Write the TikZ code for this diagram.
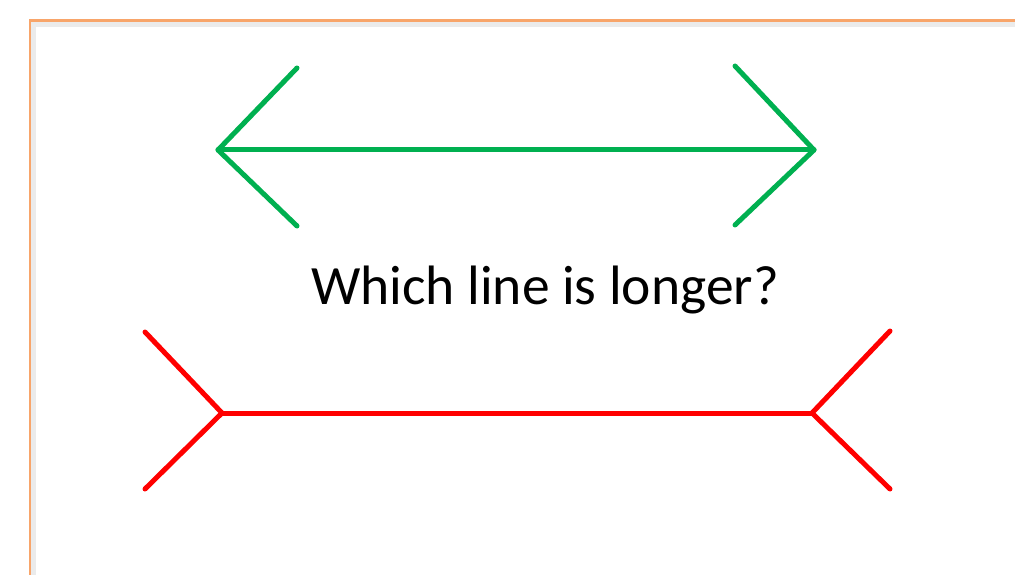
\documentclass[tikz,border=0pt]{standalone}
\usepackage{fontspec}
\setmainfont{Carlito}
\usetikzlibrary{positioning}
\definecolor{fingreen}{HTML}{00B050}
\definecolor{finred}{HTML}{FF0000}
\definecolor{frameorange}{HTML}{F8A56A}
\tikzset{
  frame/.style={draw=frameorange,line width=2.2pt},
  shade line/.style={draw=black!8,line width=5pt},
  greenline/.style={draw=fingreen,line width=5pt,line cap=round,line join=round},
  redline/.style={draw=finred,line width=5pt,line cap=round,line join=round},
  question/.style={font=\fontsize{55.5}{64}\selectfont,inner sep=0pt}
}
\begin{document}
\begin{tikzpicture}[x=1pt,y=-1pt]
\useasboundingbox (0,0) rectangle (1015,575);
% page frame
\draw[shade line] (33,580) -- (33,25) -- (1020,25);
\draw[frame] (30,580) -- (30,20.5) -- (1020,20.5);
% green arrows
\coordinate (gl) at (218,150);
\coordinate (gr) at (814,150);
\coordinate (gla) at (297,68);
\coordinate (glb) at (297,226);
\coordinate (gra) at (735,66);
\coordinate (grb) at (735,225);
\draw[greenline] (gl) -- (gr);
\draw[greenline] (gla) -- (gl) -- (glb);
\draw[greenline] (gra) -- (gr) -- (grb);
% question
\node[question, anchor=base] (q) at (545,304) {Which line is longer?};
% red fins
\coordinate (rl) at (222,413);
\coordinate (rr) at (812,413);
\coordinate (rla) at (145,332);
\coordinate (rlb) at (145,489);
\coordinate (rra) at (890,331);
\coordinate (rrb) at (890,489);
\draw[redline] (rl) -- (rr);
\draw[redline] (rla) -- (rl) -- (rlb);
\draw[redline] (rra) -- (rr) -- (rrb);
\end{tikzpicture}
\end{document}
